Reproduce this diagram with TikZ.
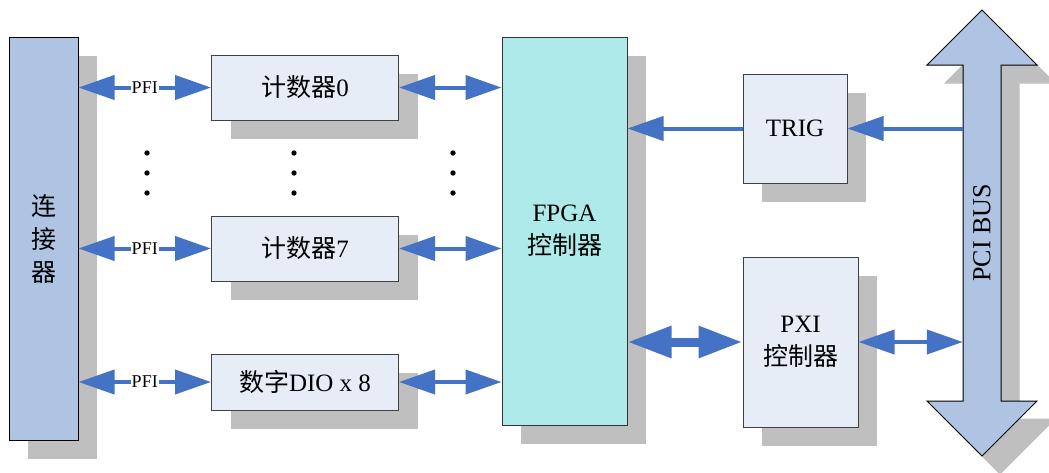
\documentclass[tikz,border=0pt]{standalone}
\usepackage{fontspec}
\setmainfont{Liberation Serif}
\newfontfamily\cjk{Noto Sans CJK SC}
\usepackage{tikz}
\usetikzlibrary{positioning,arrows.meta,shadows}
\usepackage{xcolor}

\definecolor{linkblue}{RGB}{68,114,196}
\definecolor{connfill}{RGB}{175,196,227}
\definecolor{fpgafill}{RGB}{175,234,234}
\definecolor{boxfill}{RGB}{230,237,247}
\definecolor{shadegray}{RGB}{191,191,191}

\tikzset{
  block/.style={draw=black!75, line width=1pt, fill=boxfill, inner sep=0pt, align=center,
    font=\fontsize{25}{33}\selectfont,
    drop shadow={shadow xshift=19pt, shadow yshift=-19pt, fill=shadegray, opacity=1}},
  link/.style={<->, >={Triangle[length=36pt,width=24pt]}, draw=linkblue, line width=4pt},
  widelink/.style={link, >={Triangle[length=44pt,width=30pt]}, line width=9pt},
  pfi/.style={fill=white, inner sep=1pt, font=\fontsize{18}{18}\selectfont},
}

\begin{document}
\begin{tikzpicture}[x=1pt,y=-1pt]

\useasboundingbox (0,0) rectangle (1049,472);

% PCI bus: shadow first, then the arrow itself
\foreach \d/\col/\edge in {18/shadegray/shadegray, 0/connfill/black}{
  \filldraw[fill=\col, draw=\edge, line width=1pt, shift={(\d,\d)}]
    (963,65) -- (927,65) -- (982,10) -- (1037,65) -- (1001,65) -- (1001,401)
    -- (1037,401) -- (982,456) -- (927,401) -- (963,401) -- cycle;
}
\node[minimum width=38pt, minimum height=336pt, inner sep=0pt] (bus) at (982,233) {};
\node[rotate=90, font=\fontsize{26}{30}\selectfont] (buslabel) at (bus) {PCI BUS};

\node[block, fill=connfill, draw=black, font=\fontsize{25}{33}\selectfont\cjk,
  minimum width=69pt, minimum height=403pt] (conn) at (43.5,238.5) {连\\接\\器};
\node[block, fill=fpgafill, draw=black!80, minimum width=125pt, minimum height=388pt]
  (fpga) at (564.5,231) {FPGA\\{\cjk 控制器}};
\node[block, minimum width=104pt, minimum height=109pt] (trig) at (795,128.5) {TRIG};
\node[block, minimum width=115pt, minimum height=170pt] (pxi) at (800.5,342) {PXI\\{\cjk 控制器}};

\foreach \name/\y/\h/\txt in {cnt0/87.5/65/{{\cjk 计数器}0},
    cnt7/248.5/65/{{\cjk 计数器}7}, dio/382/56/{{\cjk 数字}DIO x 8}}{
  \node[block, minimum width=187pt, minimum height=\h pt] (\name) at (305,\y) {\txt};
  \draw[link] (conn.east |- \name) -- node[pfi] (pfi-\name) {PFI} (\name.west);
  \draw[link] (\name.east) -- (\name.east -| fpga.west);
}

% vertical ellipsis between the counters
\foreach \x in {147,294,453}
  \foreach \y in {153,173,193}
    \fill (\x,\y) circle[radius=2.7pt];

\draw[link, <-] (fpga.east |- trig) -- (trig.west);
\draw[link, <-] (trig.east) -- (trig -| bus.west);
\draw[widelink] (fpga.east |- pxi) -- (pxi.west);
\draw[link] (pxi.east) -- (pxi -| bus.west);

\end{tikzpicture}
\end{document}
